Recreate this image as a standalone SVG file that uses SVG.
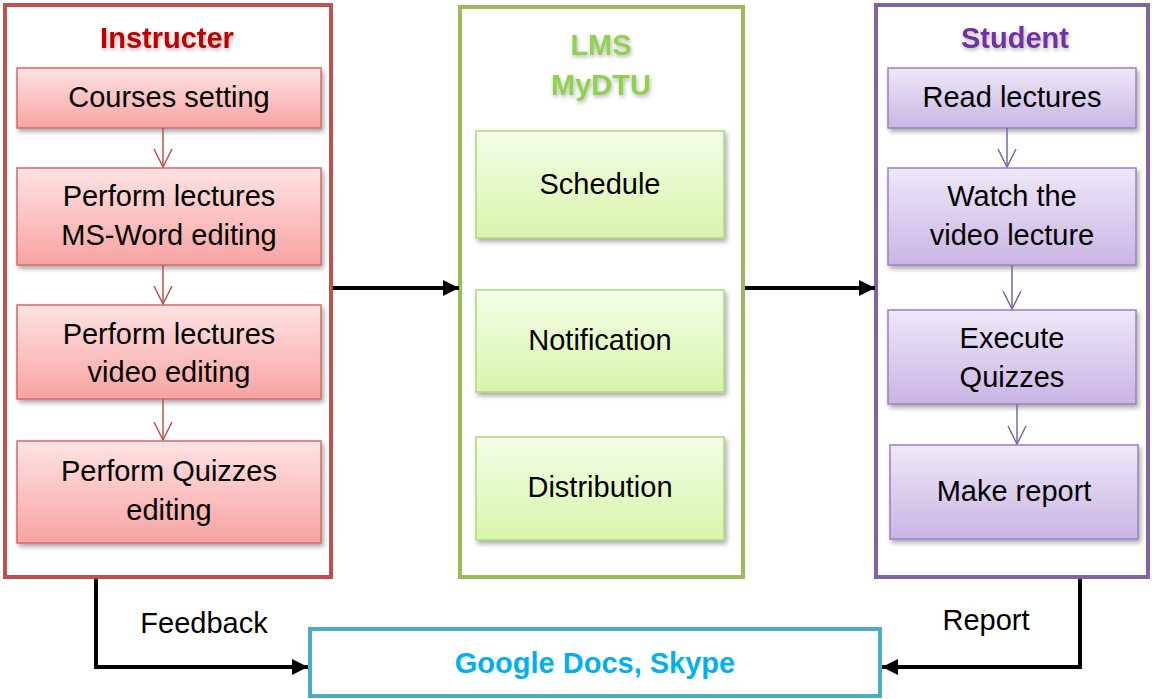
<svg xmlns="http://www.w3.org/2000/svg" width="1152" height="699" viewBox="0 0 1152 699">
<defs>
<linearGradient id="gRed" x1="0" y1="0" x2="0" y2="1"><stop offset="0" stop-color="#ffe3e3"/><stop offset="1" stop-color="#f7a3a2"/></linearGradient>
<linearGradient id="gGreen" x1="0" y1="0" x2="0" y2="1"><stop offset="0" stop-color="#f5fde9"/><stop offset="1" stop-color="#d8f5aa"/></linearGradient>
<linearGradient id="gPurple" x1="0" y1="0" x2="0" y2="1"><stop offset="0" stop-color="#eee8f7"/><stop offset="1" stop-color="#c9b5e4"/></linearGradient>
<filter id="sh" x="-10%" y="-10%" width="130%" height="140%"><feDropShadow dx="2" dy="3" stdDeviation="2.5" flood-color="#000" flood-opacity="0.35"/></filter>
<filter id="tsh" x="-20%" y="-30%" width="140%" height="170%"><feDropShadow dx="1" dy="2" stdDeviation="2" flood-color="#000" flood-opacity="0.3"/></filter>
<marker id="blk" viewBox="0 0 10 10" refX="10" refY="5" markerWidth="4" markerHeight="4" orient="auto" markerUnits="strokeWidth"><path d="M0,0 L10,5 L0,10 z" fill="#000"/></marker>
<marker id="vRed" viewBox="0 0 20 20" refX="10" refY="19" markerWidth="20" markerHeight="20" orient="0" markerUnits="userSpaceOnUse"><path d="M1,1 L10,19 L19,1" fill="none" stroke="#c0504d" stroke-width="1.5"/></marker>
<marker id="vPur" viewBox="0 0 20 20" refX="10" refY="19" markerWidth="20" markerHeight="20" orient="0" markerUnits="userSpaceOnUse"><path d="M1,1 L10,19 L19,1" fill="none" stroke="#8064a2" stroke-width="1.5"/></marker>
</defs>
<style>
.t{font-family:"Liberation Sans",Arial,sans-serif;font-size:29px;fill:#000;text-anchor:middle}
.h{font-family:"Liberation Sans",Arial,sans-serif;font-size:29px;font-weight:bold;text-anchor:middle}
.outer{fill:#fff;stroke-width:4}
.red{fill:url(#gRed);stroke:#d46a6a;stroke-width:1.5}
.grn{fill:url(#gGreen);stroke:#b3d67c;stroke-width:1.5}
.pur{fill:url(#gPurple);stroke:#9b80c2;stroke-width:1.5}
.con{fill:none;stroke:#000;stroke-width:4}
</style>
<rect width="1152" height="699" fill="#fff"/>

<g id="instructer">
<rect class="outer" x="5" y="5" width="326" height="572" stroke="#c0504d"/>
<text class="h" x="167" y="48" fill="#c00000" filter="url(#tsh)">Instructer</text>
</g>
<g id="courses-setting"><rect class="red" x="17" y="68" width="304" height="60" filter="url(#sh)"/><text class="t" x="169" y="107">Courses setting</text></g>
<g id="perform-word"><rect class="red" x="17" y="168" width="304" height="97" filter="url(#sh)"/><text class="t" x="169" y="206">Perform lectures</text><text class="t" x="169" y="245">MS-Word editing</text></g>
<g id="perform-video"><rect class="red" x="17" y="305" width="304" height="94" filter="url(#sh)"/><text class="t" x="169" y="344">Perform lectures</text><text class="t" x="169" y="382">video editing</text></g>
<g id="perform-quizzes"><rect class="red" x="17" y="441" width="304" height="102" filter="url(#sh)"/><text class="t" x="169" y="481">Perform Quizzes</text><text class="t" x="169" y="520">editing</text></g>

<g id="lms">
<rect class="outer" x="460" y="7" width="283" height="570" stroke="#9bbb59"/>
<text class="h" x="601" y="55" fill="#92d050" filter="url(#tsh)">LMS</text>
<text class="h" x="601" y="95" fill="#92d050" filter="url(#tsh)">MyDTU</text>
</g>
<g id="schedule"><rect class="grn" x="476" y="131" width="248" height="107" filter="url(#sh)"/><text class="t" x="600" y="194">Schedule</text></g>
<g id="notification"><rect class="grn" x="476" y="290" width="248" height="102" filter="url(#sh)"/><text class="t" x="600" y="350">Notification</text></g>
<g id="distribution"><rect class="grn" x="476" y="437" width="248" height="103" filter="url(#sh)"/><text class="t" x="600" y="497">Distribution</text></g>

<g id="student">
<rect class="outer" x="876" y="5" width="272" height="572" stroke="#8064a2"/>
<text class="h" x="1015" y="48" fill="#7030a0" filter="url(#tsh)">Student</text>
</g>
<g id="read-lectures"><rect class="pur" x="888" y="68" width="248" height="60" filter="url(#sh)"/><text class="t" x="1012" y="107">Read lectures</text></g>
<g id="watch-video"><rect class="pur" x="888" y="168" width="248" height="97" filter="url(#sh)"/><text class="t" x="1012" y="206">Watch the</text><text class="t" x="1012" y="245">video lecture</text></g>
<g id="execute-quizzes"><rect class="pur" x="888" y="310" width="248" height="94" filter="url(#sh)"/><text class="t" x="1012" y="348">Execute</text><text class="t" x="1012" y="387">Quizzes</text></g>
<g id="make-report"><rect class="pur" x="890" y="445" width="248" height="94" filter="url(#sh)"/><text class="t" x="1014" y="501">Make report</text></g>

<g id="google-docs">
<rect x="310" y="629" width="570" height="67" fill="#fff" stroke="#4bacc6" stroke-width="4"/>
<text class="h" x="595" y="673" fill="#00b0f0" font-size="28">Google Docs, Skype</text>
</g>

<g id="connectors">
<line x1="163" y1="128" x2="163" y2="167" stroke="#c0504d" stroke-width="1.5" marker-end="url(#vRed)"/>
<line x1="163" y1="265" x2="163" y2="304" stroke="#c0504d" stroke-width="1.5" marker-end="url(#vRed)"/>
<line x1="163" y1="399" x2="163" y2="440" stroke="#c0504d" stroke-width="1.5" marker-end="url(#vRed)"/>
<line x1="1007" y1="128" x2="1007" y2="167" stroke="#8064a2" stroke-width="1.5" marker-end="url(#vPur)"/>
<line x1="1012" y1="265" x2="1012" y2="309" stroke="#8064a2" stroke-width="1.5" marker-end="url(#vPur)"/>
<line x1="1017" y1="404" x2="1017" y2="444" stroke="#8064a2" stroke-width="1.5" marker-end="url(#vPur)"/>
<line class="con" x1="333" y1="288" x2="459" y2="288" marker-end="url(#blk)"/>
<line class="con" x1="745" y1="288" x2="875" y2="288" marker-end="url(#blk)"/>
<polyline class="con" points="96,579 96,667 308,667" marker-end="url(#blk)"/>
<polyline class="con" points="1080,579 1080,667 882,667" marker-end="url(#blk)"/>
<text class="t" x="204" y="633">Feedback</text>
<text class="t" x="986" y="630">Report</text>
</g>
</svg>
